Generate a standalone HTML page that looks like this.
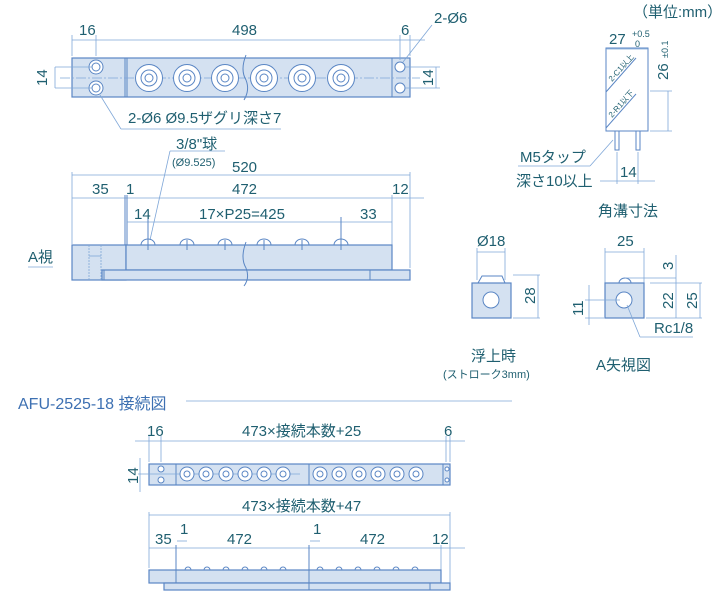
<!DOCTYPE html>
<html><head><meta charset="utf-8"><style>
html,body{margin:0;padding:0;background:#fff;}
svg{display:block;font-family:"Liberation Sans","Noto Sans CJK JP",sans-serif;}
.t{fill:#1f5f70;font-size:15px;}
.s{fill:#1f5f70;font-size:11px;}
.b{fill:#d4e1f1;stroke:#5a86c4;stroke-width:1.2;}
.d{stroke:#7fa7d8;stroke-width:0.8;fill:none;}
.c{stroke:#5a86c4;stroke-width:1;fill:#fff;}
.h{stroke:#5a86c4;stroke-width:1;fill:none;}
</style></head><body>
<svg width="728" height="600" viewBox="0 0 728 600">
<!-- ===== TOP VIEW ===== -->
<rect class="b" x="72" y="58" width="338" height="39"/>
<line class="h" x1="125" y1="58" x2="125" y2="97"/><line class="h" x1="127" y1="58" x2="127" y2="97"/>
<line class="h" x1="392" y1="58" x2="392" y2="97"/>
<line class="d" x1="60" y1="78" x2="420" y2="78" stroke-dasharray="10,2,2,2"/>
<g class="c">
<circle cx="96" cy="67" r="7"/><circle cx="96" cy="67" r="4"/>
<circle cx="96" cy="88" r="7"/><circle cx="96" cy="88" r="4"/>
<circle cx="400" cy="67" r="5"/><circle cx="400" cy="88" r="5"/>
<circle cx="149" cy="78" r="13.5"/><circle cx="149" cy="78" r="8"/><circle cx="149" cy="78" r="4"/>
<circle cx="187" cy="78" r="13.5"/><circle cx="187" cy="78" r="8"/><circle cx="187" cy="78" r="4"/>
<circle cx="225" cy="78" r="13.5"/><circle cx="225" cy="78" r="8"/><circle cx="225" cy="78" r="4"/>
<circle cx="264" cy="78" r="13.5"/><circle cx="264" cy="78" r="8"/><circle cx="264" cy="78" r="4"/>
<circle cx="302" cy="78" r="13.5"/><circle cx="302" cy="78" r="8"/><circle cx="302" cy="78" r="4"/>
<circle cx="341" cy="78" r="13.5"/><circle cx="341" cy="78" r="8"/><circle cx="341" cy="78" r="4"/>
</g>
<path class="h" d="M246 55 Q240 70 246 80 Q250 90 244 100"/>
<!-- dims top -->
<line class="d" x1="72" y1="35" x2="72" y2="56"/><line class="d" x1="96" y1="35" x2="96" y2="56"/>
<line class="d" x1="400" y1="35" x2="400" y2="60"/><line class="d" x1="410" y1="35" x2="410" y2="56"/>
<line class="d" x1="72" y1="40" x2="425" y2="40"/>
<text class="t" x="79" y="35">16</text><text class="t" x="232" y="35">498</text><text class="t" x="401" y="35">6</text>
<text class="t" x="434" y="23">2-Ø6</text>
<line class="d" x1="432" y1="25" x2="403" y2="62"/>
<line class="d" x1="55" y1="67" x2="92" y2="67"/><line class="d" x1="55" y1="88" x2="92" y2="88"/>
<line class="d" x1="55" y1="67" x2="55" y2="88"/>
<text class="t" x="0" y="0" transform="translate(47,86) rotate(-90)">14</text>
<line class="d" x1="405" y1="67" x2="440" y2="67"/><line class="d" x1="405" y1="88" x2="440" y2="88"/>
<line class="d" x1="436" y1="67" x2="436" y2="88"/>
<text class="t" x="0" y="0" transform="translate(433,86) rotate(-90)">14</text>
<text class="t" x="128" y="123">2-Ø6  Ø9.5ザグリ深さ7</text>
<line class="d" x1="121" y1="129" x2="281" y2="129"/><line class="d" x1="121" y1="129" x2="100" y2="95"/>
<!-- ===== SIDE VIEW ===== -->
<text class="t" x="176" y="149">3/8"球</text>
<line class="d" x1="170" y1="151" x2="225" y2="151"/>
<text class="s" x="172" y="166">(Ø9.525)</text>
<line class="d" x1="170" y1="151" x2="150" y2="240"/>
<text class="t" x="232" y="172">520</text>
<line class="d" x1="72" y1="175" x2="410" y2="175"/>
<line class="d" x1="72" y1="172" x2="72" y2="244"/><line class="d" x1="410" y1="172" x2="410" y2="268"/>
<line class="d" x1="72" y1="198" x2="424" y2="198"/>
<line class="h" x1="125" y1="195" x2="125" y2="245"/><line class="h" x1="127" y1="195" x2="127" y2="245"/>
<line class="d" x1="392" y1="195" x2="392" y2="245"/>
<text class="t" x="92" y="194">35</text><text class="t" x="126" y="194">1</text><text class="t" x="232" y="194">472</text><text class="t" x="392" y="194">12</text>
<line class="d" x1="127" y1="222" x2="392" y2="222"/>
<line class="h" x1="148" y1="217" x2="148" y2="240"/><line class="h" x1="341" y1="217" x2="341" y2="240"/>
<text class="t" x="134" y="219">14</text><text class="t" x="199" y="219">17×P25=425</text><text class="t" x="360" y="219">33</text>
<rect class="b" x="72" y="245" width="54" height="35"/>
<rect class="b" x="126" y="245" width="266" height="25"/>
<rect class="b" x="102" y="270" width="308" height="10"/>
<line class="h" x1="370" y1="270" x2="370" y2="280"/><line class="h" x1="104" y1="270" x2="104" y2="280"/>
<line class="d" x1="89" y1="245" x2="89" y2="280" stroke-dasharray="2,1"/><line class="d" x1="101" y1="245" x2="101" y2="280" stroke-dasharray="2,1"/>
<line class="d" x1="89" y1="256" x2="101" y2="256"/>
<g class="h">
<path d="M141 245 A7 6 0 0 1 155 245"/><path d="M180 245 A7 6 0 0 1 194 245"/><path d="M218 245 A7 6 0 0 1 232 245"/>
<path d="M257 245 A7 6 0 0 1 271 245"/><path d="M295 245 A7 6 0 0 1 309 245"/><path d="M334 245 A7 6 0 0 1 348 245"/>
<line x1="148" y1="240" x2="148" y2="250"/><line x1="187" y1="240" x2="187" y2="250"/><line x1="225" y1="240" x2="225" y2="250"/>
<line x1="264" y1="240" x2="264" y2="250"/><line x1="302" y1="240" x2="302" y2="250"/><line x1="341" y1="240" x2="341" y2="250"/>
</g>
<path class="h" d="M246 242 Q240 258 246 268 Q250 278 244 286"/>
<text class="t" x="28" y="262">A視</text>
<line class="d" x1="28" y1="267" x2="53" y2="267"/>
<!-- ===== RIGHT ===== -->
<text class="t" x="633" y="17">（単位:mm）</text>
<rect x="606" y="48" width="42" height="83" fill="#fff" stroke="#5a86c4" stroke-width="1"/>
<line class="d" x1="606" y1="49" x2="648" y2="49"/>
<text class="t" x="609" y="44">27</text><text class="s" x="632" y="37" style="font-size:9px">+0.5</text><text class="s" x="635" y="47" style="font-size:9px">0</text>
<line class="h" x1="606" y1="92" x2="636" y2="58"/><line class="h" x1="606" y1="128" x2="636" y2="94"/>
<text class="s" style="font-size:8px" transform="translate(612,82) rotate(-48)">2-C1以上</text>
<text class="s" style="font-size:8px" transform="translate(612,118) rotate(-48)">2-R1以下</text>
<line class="d" x1="650" y1="91" x2="672" y2="91"/><line class="d" x1="650" y1="131" x2="672" y2="131"/>
<line class="d" x1="668" y1="91" x2="668" y2="131"/>
<text class="t" transform="translate(668,80) rotate(-90)">26</text><text class="s" style="font-size:9px" transform="translate(668,58) rotate(-90)">±0.1</text>
<rect x="615" y="131" width="4" height="19" class="h"/><rect x="636" y="131" width="4" height="19" class="h"/>
<text class="t" x="520" y="162">M5タップ</text>
<line class="d" x1="518" y1="166" x2="590" y2="166"/><line class="d" x1="590" y1="166" x2="613" y2="140"/>
<text class="t" x="516" y="186">深さ10以上</text>
<line class="d" x1="617" y1="152" x2="617" y2="184"/><line class="d" x1="638" y1="152" x2="638" y2="184"/>
<line class="d" x1="600" y1="181" x2="655" y2="181"/><text class="t" x="620" y="177">14</text>
<text class="t" x="598" y="216">角溝寸法</text>
<!-- float -->
<text class="t" x="477" y="246">Ø18</text>
<line class="d" x1="477" y1="252" x2="505" y2="252"/><line class="d" x1="477" y1="248" x2="477" y2="280"/><line class="d" x1="505" y1="248" x2="505" y2="280"/>
<path class="h" d="M478 283 L482 276 L502 276 L505 283" fill="#d4e1f1"/>
<rect class="b" x="472" y="283" width="39" height="35"/>
<circle cx="491" cy="300" r="8" class="c"/>
<line class="d" x1="513" y1="275" x2="540" y2="275"/><line class="d" x1="513" y1="318" x2="540" y2="318"/><line class="d" x1="538" y1="275" x2="538" y2="318"/>
<text class="t" transform="translate(535,304) rotate(-90)">28</text>
<text class="t" x="471" y="361">浮上時</text>
<text class="s" x="443" y="378">(ストローク3mm)</text>
<!-- A view -->
<text class="t" x="617" y="246">25</text>
<line class="d" x1="605" y1="252" x2="644" y2="252"/><line class="d" x1="605" y1="248" x2="605" y2="283"/><line class="d" x1="644" y1="248" x2="644" y2="283"/>
<rect class="b" x="605" y="283" width="39" height="35"/>
<path class="h" d="M619 283 A6 5 0 0 1 631 283"/>
<circle cx="624" cy="300" r="8" class="c"/>
<line class="d" x1="625" y1="278" x2="676" y2="278"/><line class="d" x1="646" y1="318" x2="702" y2="318"/><line class="d" x1="650" y1="283" x2="702" y2="283"/>
<line class="d" x1="676" y1="255" x2="676" y2="318"/><line class="d" x1="700" y1="283" x2="700" y2="318"/>
<text class="t" transform="translate(673,270) rotate(-90)">3</text>
<text class="t" transform="translate(673,309) rotate(-90)">22</text>
<text class="t" transform="translate(697,309) rotate(-90)">25</text>
<line class="d" x1="585" y1="300" x2="620" y2="300"/><line class="d" x1="585" y1="318" x2="604" y2="318"/><line class="d" x1="589" y1="285" x2="589" y2="325"/>
<text class="t" transform="translate(583,316) rotate(-90)">11</text>
<line class="d" x1="627" y1="305" x2="640" y2="337"/><line class="d" x1="640" y1="337" x2="693" y2="337"/>
<text class="t" x="654" y="333">Rc1/8</text>
<text class="t" x="596" y="370">A矢視図</text>
<!-- ===== BOTTOM ===== -->
<text x="18" y="409" style="fill:#3d70b2;font-size:16px">AFU-2525-18 接続図</text>
<line class="d" x1="186" y1="401" x2="512" y2="401"/>
<text class="t" x="147" y="436">16</text><text class="t" x="242" y="436">473×接続本数+25</text><text class="t" x="444" y="436">6</text>
<line class="d" x1="135" y1="441" x2="465" y2="441"/>
<line class="d" x1="149" y1="436" x2="149" y2="462"/><line class="d" x1="161" y1="436" x2="161" y2="462"/><line class="d" x1="446" y1="436" x2="446" y2="462"/><line class="d" x1="450" y1="436" x2="450" y2="462"/>
<rect class="b" x="149" y="464" width="301" height="21"/>
<line class="h" x1="176" y1="464" x2="176" y2="485"/><line class="h" x1="309" y1="464" x2="309" y2="485"/><line class="h" x1="443" y1="464" x2="443" y2="485"/>
<line class="d" x1="138" y1="474" x2="300" y2="474"/>
<line class="d" x1="140" y1="458" x2="140" y2="492"/>
<text class="t" transform="translate(138,484) rotate(-90)">14</text>
<g class="c">
<circle cx="161" cy="469" r="3"/><circle cx="161" cy="480" r="3"/><circle cx="447" cy="469" r="2"/><circle cx="447" cy="480" r="2"/>
<circle cx="187" cy="474" r="7"/><circle cx="206" cy="474" r="7"/><circle cx="226" cy="474" r="7"/><circle cx="245" cy="474" r="7"/><circle cx="264" cy="474" r="7"/><circle cx="283" cy="474" r="7"/>
<circle cx="320" cy="474" r="7"/><circle cx="339" cy="474" r="7"/><circle cx="359" cy="474" r="7"/><circle cx="378" cy="474" r="7"/><circle cx="397" cy="474" r="7"/><circle cx="416" cy="474" r="7"/>
<circle cx="187" cy="474" r="3"/><circle cx="206" cy="474" r="3"/><circle cx="226" cy="474" r="3"/><circle cx="245" cy="474" r="3"/><circle cx="264" cy="474" r="3"/><circle cx="283" cy="474" r="3"/>
<circle cx="320" cy="474" r="3"/><circle cx="339" cy="474" r="3"/><circle cx="359" cy="474" r="3"/><circle cx="378" cy="474" r="3"/><circle cx="397" cy="474" r="3"/><circle cx="416" cy="474" r="3"/>
</g>
<text class="t" x="242" y="511">473×接続本数+47</text>
<line class="d" x1="149" y1="515" x2="450" y2="515"/>
<line class="d" x1="149" y1="512" x2="149" y2="568"/><line class="d" x1="450" y1="512" x2="450" y2="583"/>
<line class="d" x1="149" y1="548" x2="465" y2="548"/>
<line class="h" x1="176" y1="545" x2="176" y2="570"/><line class="h" x1="309" y1="545" x2="309" y2="570"/><line class="d" x1="441" y1="545" x2="441" y2="570"/>
<text class="t" x="155" y="544">35</text><text class="t" x="180" y="534">1</text><text class="t" x="227" y="544">472</text>
<text class="t" x="313" y="534">1</text><text class="t" x="360" y="544">472</text><text class="t" x="432" y="544">12</text>
<line class="d" x1="177" y1="541" x2="187" y2="541"/><line class="d" x1="310" y1="541" x2="320" y2="541"/>
<rect class="b" x="149" y="570" width="292" height="13"/>
<rect class="b" x="164" y="583" width="286" height="7"/>
<line class="h" x1="176" y1="570" x2="176" y2="583"/><line class="h" x1="309" y1="570" x2="309" y2="590"/><line class="h" x1="430" y1="583" x2="430" y2="590"/>
<g class="h">
<path d="M185 570 A3 3 0 0 1 191 570"/><path d="M204 570 A3 3 0 0 1 210 570"/><path d="M223 570 A3 3 0 0 1 229 570"/><path d="M242 570 A3 3 0 0 1 248 570"/><path d="M261 570 A3 3 0 0 1 267 570"/><path d="M280 570 A3 3 0 0 1 286 570"/>
<path d="M317 570 A3 3 0 0 1 323 570"/><path d="M336 570 A3 3 0 0 1 342 570"/><path d="M355 570 A3 3 0 0 1 361 570"/><path d="M374 570 A3 3 0 0 1 380 570"/><path d="M393 570 A3 3 0 0 1 399 570"/><path d="M412 570 A3 3 0 0 1 418 570"/>
</g>
</svg>
</body></html>
